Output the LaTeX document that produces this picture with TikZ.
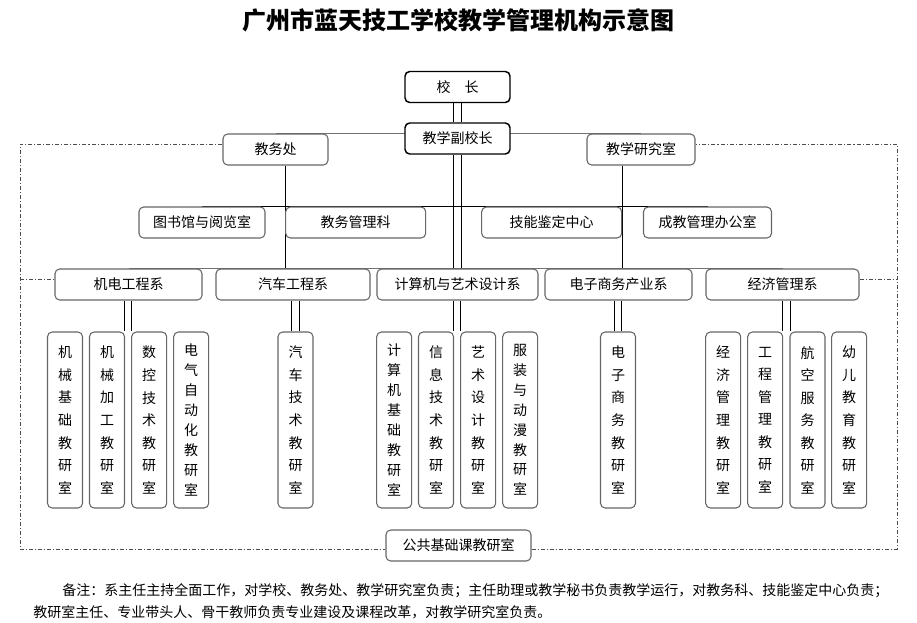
\documentclass[tikz,border=0pt]{standalone}
\usepackage{fontspec}
\newfontfamily\cjk{Noto Sans CJK SC}
\usetikzlibrary{calc}
\pgfdeclarelayer{bg}
\pgfsetlayers{bg,main}
\begin{document}
\begin{tikzpicture}[x=0.75pt,y=-0.75pt,
  sz/.style 2 args={minimum width=#1*0.75pt,minimum height=#2*0.75pt},
  bx/.style={draw=black!60,line width=0.8pt,rounded corners=3.5pt,fill=white,inner sep=0pt,font=\cjk\fontsize{10.5}{12}\selectfont},
  topbx/.style={bx,draw=black,line width=1.1pt},
  sub/.style={bx,sz={35}{176},align=center},
  v7/.style={font=\cjk\fontsize{10.5}{16.9}\selectfont},
  v8/.style={font=\cjk\fontsize{10.5}{14.9}\selectfont},
  ln/.style={draw=black,line width=0.75pt},
  gln/.style={draw=black!55,line width=1.3pt},
  frm/.style={draw=black!70,line width=0.7pt,dash pattern=on 3pt off 1.5pt on 0.8pt off 1.5pt},
  txt/.style={inner sep=0pt,font=\cjk\fontsize{10.5}{12}\selectfont},
]
\useasboundingbox (0,0) rectangle (917,622);

% title
\node[font=\cjk\bfseries\fontsize{18}{20}\selectfont] (title) at (458,20) {广州市蓝天技工学校教学管理机构示意图};

% top tiers
\node[topbx,sz={105}{31}] (xz) at (457.5,87) {校\quad 长};
\node[topbx,sz={105}{31}] (fxz) at (457.5,138.5) {教学副校长};
\node[bx,sz={105}{31}] (jwc) at (275.5,149.5) {教务处};
\node[bx,sz={108}{31}] (jxyjs) at (641,149.5) {教学研究室};

\node[bx,sz={126}{31}] (tsg) at (202,222.5) {图书馆与阅览室};
\node[bx,sz={140}{31}] (jwglk) at (355.7,222.5) {教务管理科};
\node[bx,sz={140}{31}] (jnjd) at (551.7,222.5) {技能鉴定中心};
\node[bx,sz={128}{31}] (cj) at (707.5,222.5) {成教管理办公室};

% departments
\node[bx,sz={147}{31}] (jd) at (128.5,284.5) {机电工程系};
\node[bx,sz={154}{31}] (qc) at (293,284.5) {汽车工程系};
\node[bx,sz={161}{31}] (jsj) at (457.5,284.5) {计算机与艺术设计系};
\node[bx,sz={147}{31}] (dz) at (618.5,284.5) {电子商务产业系};
\node[bx,sz={153}{31}] (jj) at (782.5,284.5) {经济管理系};

% sub boxes
\node[sub,v7] (jd1) at (65,420) {机\\械\\基\\础\\教\\研\\室};
\node[sub,v7] (jd2) at (107,420) {机\\械\\加\\工\\教\\研\\室};
\node[sub,v7] (jd3) at (149.2,420) {数\\控\\技\\术\\教\\研\\室};
\node[sub,v8] (jd4) at (191.2,420) {电\\气\\自\\动\\化\\教\\研\\室};
\node[sub,v7] (qc1) at (295.5,420) {汽\\车\\技\\术\\教\\研\\室};
\node[sub,v8] (jsj1) at (394.2,420) {计\\算\\机\\基\\础\\教\\研\\室};
\node[sub,v7] (jsj2) at (436,420) {信\\息\\技\\术\\教\\研\\室};
\node[sub,v7] (jsj3) at (478.2,420) {艺\\术\\设\\计\\教\\研\\室};
\node[sub,v8] (jsj4) at (520.2,420) {服\\装\\与\\动\\漫\\教\\研\\室};
\node[sub,v7] (dz1) at (618,420) {电\\子\\商\\务\\教\\研\\室};
\node[sub,v7] (jj1) at (723.2,420) {经\\济\\管\\理\\教\\研\\室};
\node[sub,v7] (jj2) at (765.2,420) {工\\程\\管\\理\\教\\研\\室};
\node[sub,v7] (jj3) at (807.5,420) {航\\空\\服\\务\\教\\研\\室};
\node[sub,v7] (jj4) at (849.2,420) {幼\\儿\\教\\育\\教\\研\\室};

\node[bx,sz={145}{31}] (ggjc) at (458.5,545.5) {公共基础课教研室};

% notes
\node[txt,anchor=west] (n1) at (62,591) {备注：系主任主持全面工作，对学校、教务处、教学研究室负责；主任助理或教学秘书负责教学运行，对教务科、技能鉴定中心负责；};
\node[txt,anchor=west] (n2) at (33,612) {教研室主任、专业带头人、骨干教师负责专业建设及课程改革，对教学研究室负责。};

% frame and connectors (behind boxes)
\coordinate (fTL) at (20,144);
\coordinate (fBR) at (897,549);
\coordinate (fM) at (20,279);
\coordinate (jdm) at ($(jd2.north east)!0.5!(jd3.north west)$);
\coordinate (jjm) at ($(jj2.north east)!0.5!(jj3.north west)$);
\coordinate (jsjm) at ($(jsj2.north east)!0.5!(jsj3.north west)$);

\begin{pgfonlayer}{bg}
  % dashed frame
  \draw[frm] (jwc.west |- fTL) -- (fTL) -- (fTL |- fBR) -- (ggjc.west |- fBR);
  \draw[frm] (ggjc.east |- fBR) -- (fBR) -- (fBR |- fTL) -- (jxyjs.east |- fTL);
  \draw[frm] (fM) -- (jd.west |- fM);
  \draw[frm] (jj.east |- fM) -- (fBR |- fM);
  % grey horizontals
  \draw[gln] (jwc.north) -- (jxyjs.north);
  \draw[gln] (jd.north) -- (jj.north);
  % black horizontal over second tier
  \draw[ln] (tsg.north) -- (cj.north);
  % verticals from 教务处 and 教学研究室
  \draw[ln] (jwglk.west |- jwc.south) -- (jwglk.west |- qc.north);
  \draw[ln] (jnjd.east |- jxyjs.south) -- (jnjd.east |- dz.north);
  % double lines
  \foreach \s in {-2.8pt,2.8pt} {
    \draw[ln] ($(xz.south)+(\s,0)$) -- ($(fxz.north)+(\s,0)$);
    \draw[ln] ($(fxz.south)+(\s,0)$) -- ($(jsj.north)+(\s,0)$);
    \draw[ln] ($(jsjm |- jsj.south)+(\s,0)$) -- ($(jsjm)+(\s,0)$);
    \draw[ln] ($(jdm |- jd.south)+(\s,0)$) -- ($(jdm)+(\s,0)$);
    \draw[ln] ($(jjm |- jj.south)+(\s,0)$) -- ($(jjm)+(\s,0)$);
    \draw[ln] ($(qc1.north |- qc.south)+(\s,0)$) -- ($(qc1.north)+(\s,0)$);
    \draw[ln] ($(dz1.north |- dz.south)+(\s,0)$) -- ($(dz1.north)+(\s,0)$);
  }
\end{pgfonlayer}
\end{tikzpicture}
\end{document}
